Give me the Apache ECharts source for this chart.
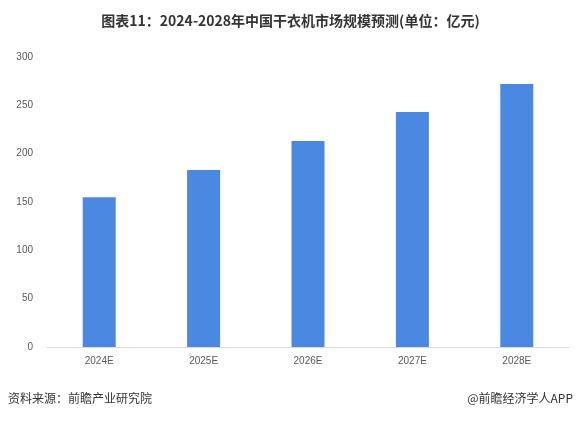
<!DOCTYPE html>
<html><head><meta charset="utf-8">
<script src="https://cdn.jsdelivr.net/npm/echarts@6/dist/echarts.min.js"></script>
<style>html,body{margin:0;padding:0;background:#fff}#c{width:581px;height:421px}</style>
</head><body><div id="c"></div>
<script>
const categories = ['2024E','2025E','2026E','2027E','2028E'];
const values = [155, 183, 213, 243, 272];
const yTicks = [0, 50, 100, 150, 200, 250, 300];
const chart = echarts.init(document.getElementById('c'));
chart.setOption({
  animation:false,
  title:{text:'图表11：2024-2028年中国干衣机市场规模预测(单位：亿元)',left:'center',top:9,
    textStyle:{fontSize:14,fontWeight:'bold',color:'#333',fontFamily:'Noto Sans CJK SC'}},
  graphic:[
    {type:'text',left:8,top:392,style:{text:'资料来源：前瞻产业研究院',fontSize:12,fill:'#333',fontFamily:'Noto Sans CJK SC'}},
    {type:'text',right:8,top:392,style:{text:'@前瞻经济学人APP',fontSize:12,fill:'#333',fontFamily:'Noto Sans CJK SC'}}
  ],
  grid:{left:47,right:12,top:57,bottom:74},
  xAxis:{type:'category',data:categories,axisTick:{show:false},
    axisLine:{lineStyle:{color:'#d9d9d9'}},
    axisLabel:{color:'#595959',fontSize:10,margin:9}},
  yAxis:{type:'value',min:yTicks[0],max:yTicks[yTicks.length-1],interval:50,
    splitLine:{show:false},axisLine:{show:false},axisTick:{show:false},
    axisLabel:{color:'#595959',fontSize:10,margin:14}},
  series:[{type:'bar',data:values,barWidth:33,itemStyle:{color:'#4a88e2'}}]
});
</script></body></html>
